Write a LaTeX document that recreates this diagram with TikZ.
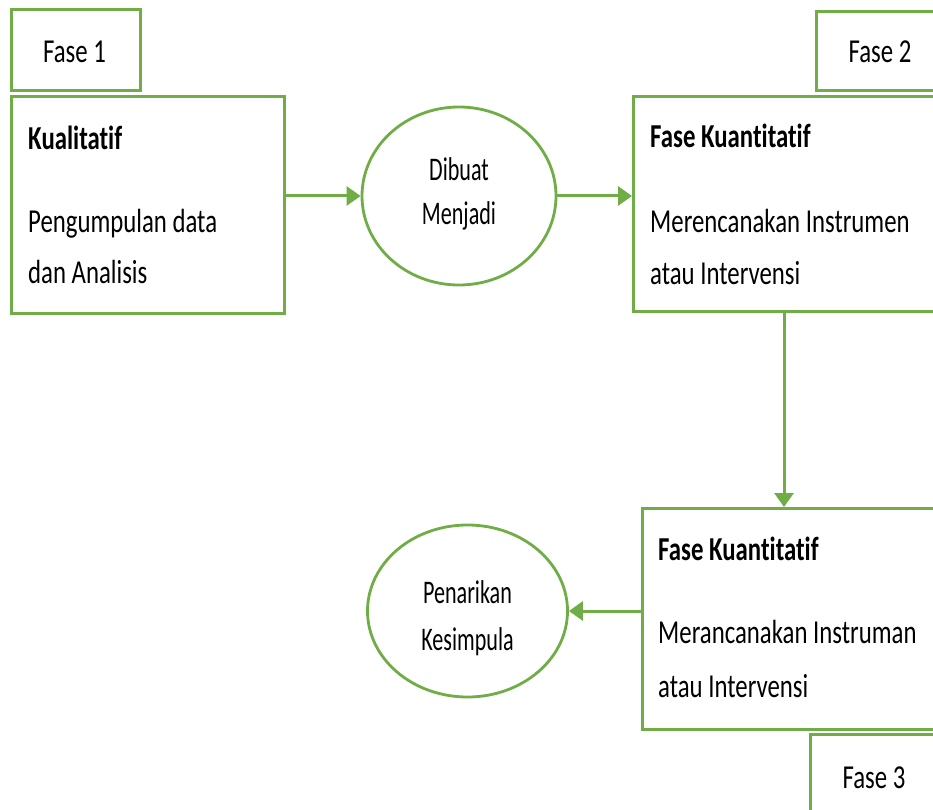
\documentclass[tikz,border=0pt]{standalone}
\usepackage{fontspec}
\setmainfont{Carlito}[FakeStretch=0.74,Ligatures=NoCommon]
\newfontfamily\ellfont{Carlito}[FakeStretch=0.67,Ligatures=NoCommon]
\usetikzlibrary{shapes.geometric,arrows.meta}
\definecolor{grn}{HTML}{70AD47}
\tikzset{
  box/.style={draw=grn, line width=2.8pt, rectangle, inner sep=0pt, anchor=north west},
  ell/.style={draw=grn, line width=2.8pt, ellipse, inner sep=0pt},
  arr/.style={draw=grn, line width=3pt, -{Triangle[length=14pt,width=19pt]}},
  txt/.style={anchor=base west, inner sep=0pt, font=\fontsize{33.5}{33.5}\selectfont},
  ctxt/.style={anchor=base, inner sep=0pt, font=\fontsize{33.5}{33.5}\selectfont},
  etxt/.style={anchor=base, inner sep=0pt, font=\ellfont\fontsize{33}{33}\selectfont}
}
\begin{document}
\begin{tikzpicture}[x=1pt,y=-1pt]
\useasboundingbox (0,0) rectangle (933,810);
\clip (0,0) rectangle (933,810);
\fill[white] (0,0) rectangle (933,810);
% boxes
\node[box, minimum width=129pt, minimum height=81pt] (f1) at (10,8) {};
\node[ctxt] (f1t) at (74.5,63) {Fase 1};
\node[box, minimum width=273pt, minimum height=217pt] (b1) at (10,95) {};
\node[txt] (b1a) at (28,150) {\bfseries Kualitatif};
\node[txt] (b1b) at (28,233) {Pengumpulan data};
\node[txt] (b1c) at (28,283) {dan Analisis};

\node[box, minimum width=160pt, minimum height=79pt] (f2) at (815,10) {};
\node[ctxt] (f2t) at (880,63) {Fase 2};
\node[box, minimum width=340pt, minimum height=215pt] (b2) at (632,95) {};
\node[txt] (b2a) at (650,148) {\bfseries Fase Kuantitatif};
\node[txt] (b2b) at (650,233) {Merencanakan Instrumen};
\node[txt] (b2c) at (650,284) {atau Intervensi};

\node[box, minimum width=340pt, minimum height=221pt] (b3) at (641,507) {};
\node[txt] (b3a) at (658,560) {\bfseries Fase Kuantitatif};
\node[txt] (b3b) at (658,643) {Merancanakan Instruman};
\node[txt] (b3c) at (658,697) {atau Intervensi};

\node[box, minimum width=170pt, minimum height=100pt] (f3) at (809,733) {};
\node[ctxt] (f3t) at (874,788) {Fase 3};

% ellipses
\node[ell, minimum width=194pt, minimum height=178pt] (e1) at (459,196) {};
\node[etxt] (e1a) at (459,181) {Dibuat};
\node[etxt] (e1b) at (459,225) {Menjadi};
\node[ell, minimum width=200pt, minimum height=172pt] (e2) at (467.5,611) {};
\node[etxt] (e2a) at (467.5,603) {Penarikan};
\node[etxt] (e2b) at (467.5,650) {Kesimpula};

% connectors
\coordinate (dx) at (784,0);
\draw[arr] (b1.east |- e1.west) -- (e1.west);
\draw[arr] (e1.east) -- (e1.east -| b2.west);
\draw[arr] (b2.south -| dx) -- (b3.north -| dx);
\draw[arr] (b3.west |- e2.east) -- (e2.east);
\end{tikzpicture}
\end{document}
